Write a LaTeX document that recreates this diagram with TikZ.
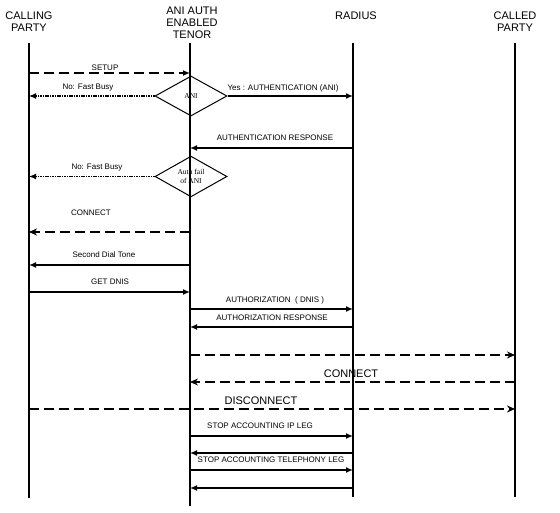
\documentclass[tikz,border=0pt]{standalone}
\usepackage{fontspec}
\setmainfont{Liberation Sans}
\newfontfamily\decfont{Liberation Serif}
\usetikzlibrary{shapes.geometric,arrows.meta}

\begin{document}
\begin{tikzpicture}[x=1pt,y=-1pt,
  life/.style={line width=1.6pt},
  msg/.style={line width=1.5pt,-{Latex[length=7pt,width=6pt]}},
  dmsg/.style={line width=1.6pt,dash pattern=on 10pt off 5pt,-{Stealth[length=8pt,width=7pt]}},
  nmsg/.style={line width=1.2pt,dash pattern=on 1.6pt off .8pt,-{Latex[length=7pt,width=6pt]}},
  lbl/.style={font=\fontsize{8}{9}\selectfont,inner sep=0pt},
  hdr/.style={font=\fontsize{11}{12}\selectfont,inner sep=0pt,align=center},
  decision/.style={diamond,draw,line width=1pt,inner sep=0pt,minimum width=72pt,
    minimum height=40pt,align=center,font=\decfont\fontsize{7.5}{8.5}\selectfont}]
\useasboundingbox (0,0) rectangle (560,513);

% parties
\node[hdr] (calling) at (29,22) {CALLING\\PARTY};
\node[hdr] (tenor) at (192,23) {ANI AUTH\\ENABLED\\TENOR};
\node[hdr] (radius) at (356,15.5) {RADIUS};
\node[hdr] (called) at (515,22) {CALLED\\PARTY};

% lifelines
\coordinate (ca) at (29,43);   \coordinate (cab) at (29,498);
\coordinate (te) at (190,43);  \coordinate (teb) at (190,506);
\coordinate (ra) at (353,43);  \coordinate (rab) at (353,497);
\coordinate (cd) at (515,43);  \coordinate (cdb) at (515,497);
\foreach \a/\b in {ca/cab,te/teb,ra/rab,cd/cdb}
  \draw[life] (\a) -- (\b);

% message rows
\foreach \n/\y in {setup/73,authresp/148,connect/232,dial/265,dnis/292,
    authz/309,authzresp/327,callout/355,connback/382,disc/409,
    stopip/436,stopipack/453,stoptel/470,stoptelack/488}
  \coordinate (\n) at (0,\y);

% ANI check
\draw[dmsg,-{Latex[length=7pt,width=6pt]}] (ca|-setup) -- (te|-setup);
\node[lbl] (lsetup) at (105,68) {SETUP};
\node[decision] (ani) at (191,96) {ANI};
\draw[nmsg] (ani.west) -- (ca|-ani.west);
\node[lbl] (lbusy) at (88,88) {No: Fast Busy};
\draw[msg] (ani.east) -- (ra|-ani.east);
\node[lbl] (lauth) at (283,88) {Yes : AUTHENTICATION (ANI)};
\draw[msg] (ra|-authresp) -- (te|-authresp);
\node[lbl] (lauthresp) at (275,138) {AUTHENTICATION RESPONSE};
\node[decision] (fail) at (191,176.5) {Auth fail\\of ANI};
\draw[nmsg] (fail.west) -- (ca|-fail.west);
\node[lbl] (lbusy2) at (97,168) {No: Fast Busy};

% call setup
\draw[dmsg] (te|-connect) -- (ca|-connect);
\node[lbl] (lconnect) at (91,213) {CONNECT};
\draw[msg] (te|-dial) -- (ca|-dial);
\node[lbl] (ldial) at (104,255) {Second Dial Tone};
\draw[msg] (ca|-dnis) -- (te|-dnis);
\node[lbl] (ldnis) at (110,282) {GET DNIS};
\draw[msg] (te|-authz) -- (ra|-authz);
\node[lbl] (lauthz) at (275,300) {AUTHORIZATION \ ( DNIS )};
\draw[msg] (ra|-authzresp) -- (te|-authzresp);
\node[lbl] (lauthzresp) at (272,318) {AUTHORIZATION RESPONSE};
\draw[dmsg] (te|-callout) -- (cd|-callout);
\draw[dmsg] (cd|-connback) -- (te|-connback);
\node[hdr] (lconnback) at (351,374) {CONNECT};

% tear down
\draw[dmsg] (ca|-disc) -- (cd|-disc);
\node[hdr] (ldisc) at (261,401) {DISCONNECT};
\draw[msg] (te|-stopip) -- (ra|-stopip);
\node[lbl] (lstopip) at (260,426) {STOP ACCOUNTING IP LEG};
\draw[msg] (ra|-stopipack) -- (te|-stopipack);
\draw[msg] (te|-stoptel) -- (ra|-stoptel);
\node[lbl] (lstoptel) at (271,460) {STOP ACCOUNTING TELEPHONY LEG};
\draw[msg] (ra|-stoptelack) -- (te|-stoptelack);
\end{tikzpicture}
\end{document}
